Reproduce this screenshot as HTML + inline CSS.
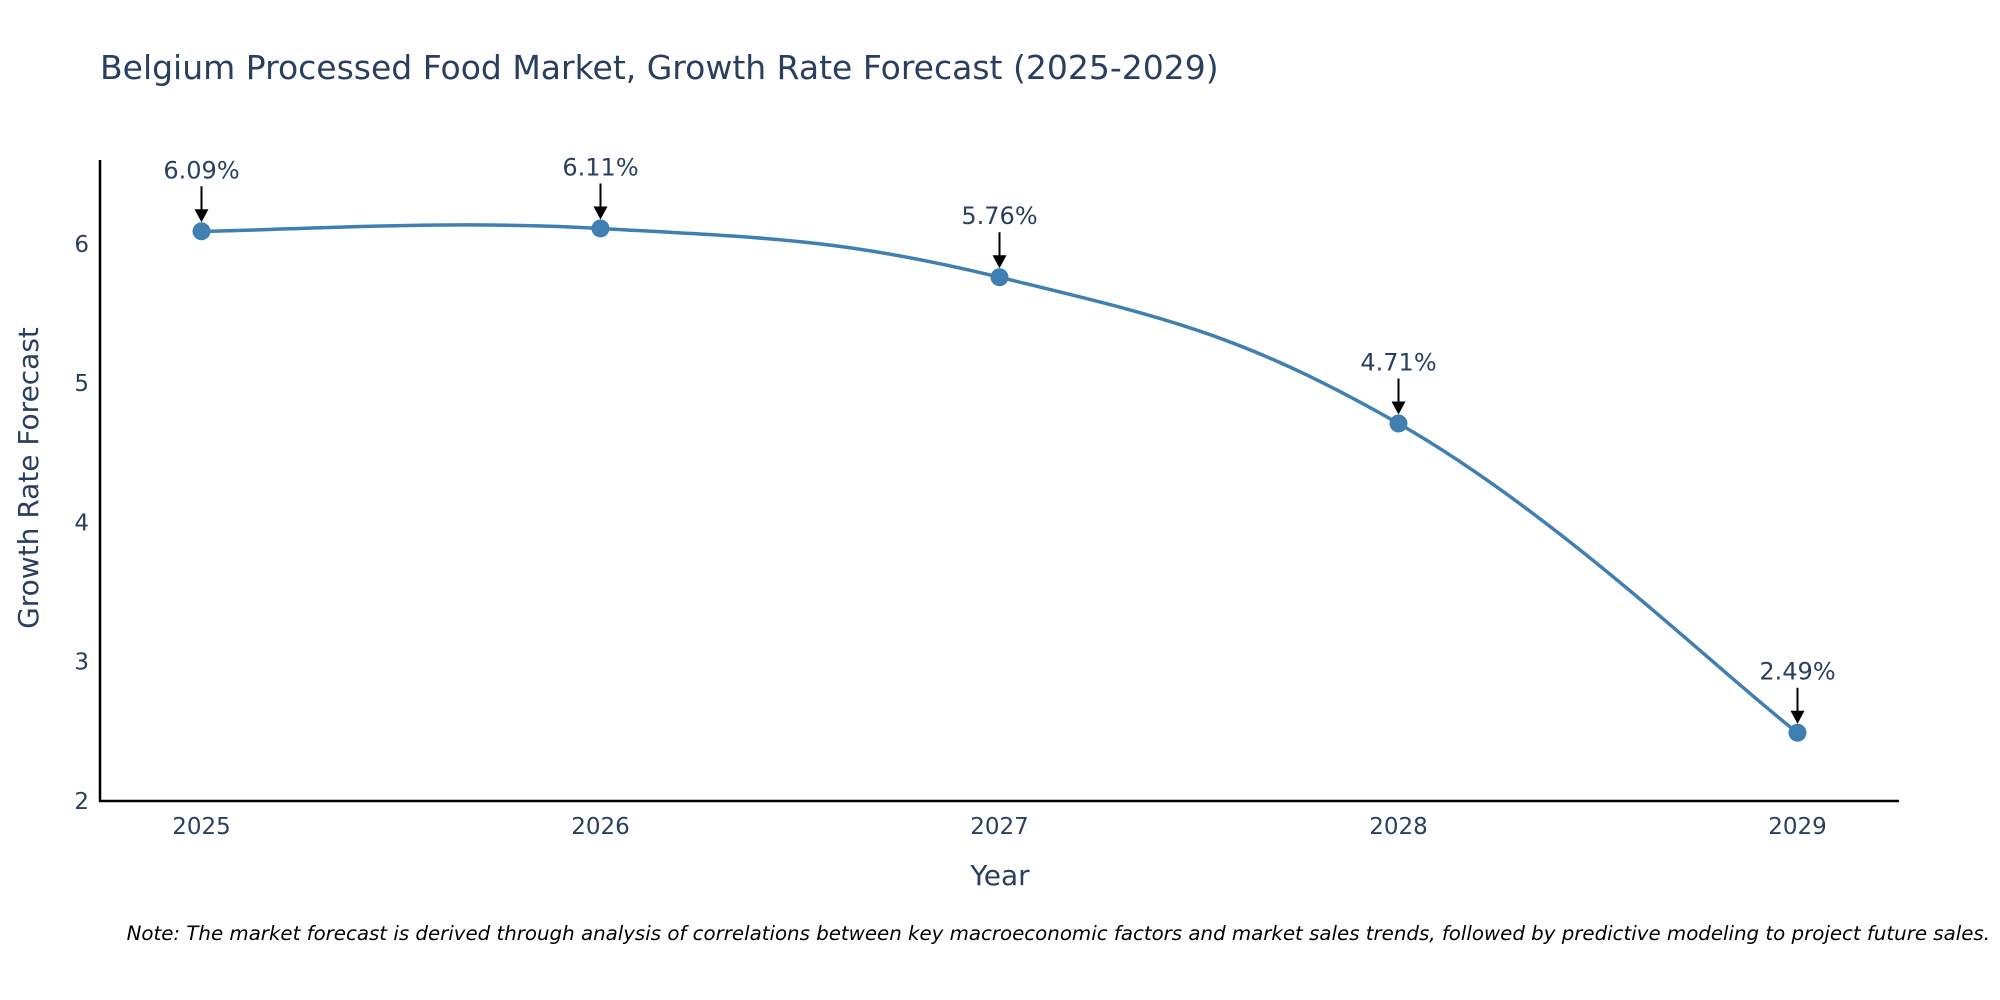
<!DOCTYPE html>
<html><head><meta charset="utf-8"><style>
body{margin:0;background:#fff;}
svg{display:block;font-family:"DejaVu Sans","Liberation Sans",sans-serif;}
</style></head><body>
<svg id="chart" width="2000" height="1000">
<text x="100" y="79" font-size="33" fill="#2a3f5f">Belgium Processed Food Market, Growth Rate Forecast (2025-2029)</text>
<line x1="100" y1="160" x2="100" y2="802" stroke="#000" stroke-width="2.5"/>
<line x1="99" y1="801" x2="1899" y2="801" stroke="#000" stroke-width="2.5"/>
<g id="yticks"></g><g id="xticks"></g>
<text x="1000" y="885" font-size="28" fill="#2a3f5f" text-anchor="middle">Year</text>
<text x="38" y="478" font-size="28" fill="#2a3f5f" text-anchor="middle" transform="rotate(-90 38 478)">Growth Rate Forecast</text>
<path id="line" fill="none" stroke="#3f7fb1" stroke-width="3.5"/>
<g id="marks"></g>
<text x="1990" y="940" font-size="19.8" font-style="italic" fill="#000" text-anchor="end">Note: The market forecast is derived through analysis of correlations between key macroeconomic factors and market sales trends, followed by predictive modeling to project future sales.</text>
</svg>
<script>
const years=[2025,2026,2027,2028,2029];
const values=[6.09,6.11,5.76,4.71,2.49];
const labels=["6.09%","6.11%","5.76%","4.71%","2.49%"];
const yTicks=[2,3,4,5,6];
const NS="http://www.w3.org/2000/svg";
const x=v=>201.5+(v-2025)*399;
const y=v=>801-(v-2)*139.3;
function mk(t,a,p){const e=document.createElementNS(NS,t);for(const k in a)e.setAttribute(k,a[k]);p.appendChild(e);return e;}
const yt=document.getElementById('yticks');
yTicks.forEach(v=>{const t=mk('text',{x:89,y:y(v)+8,'font-size':23,fill:'#2a3f5f','text-anchor':'end'},yt);t.textContent=v;

});
const xt=document.getElementById('xticks');
years.forEach(v=>{const t=mk('text',{x:x(v),y:834,'font-size':23,fill:'#2a3f5f','text-anchor':'middle'},xt);t.textContent=v;

});
const P=years.map((yr,i)=>[x(yr),y(values[i])]);
let d=`M${P[0][0]},${P[0][1]}`;const s=0.2;
for(let i=0;i<P.length-1;i++){const p0=P[Math.max(0,i-1)],p1=P[i],p2=P[i+1],p3=P[Math.min(P.length-1,i+2)];
const c1=[p1[0]+(p2[0]-p0[0])*s,p1[1]+(p2[1]-p0[1])*s],c2=[p2[0]-(p3[0]-p1[0])*s,p2[1]-(p3[1]-p1[1])*s];
d+=` C${c1[0]},${c1[1]} ${c2[0]},${c2[1]} ${p2[0]},${p2[1]}`;}
document.getElementById('line').setAttribute('d',d);
const m=document.getElementById('marks');
P.forEach((p,i)=>{const c=mk('circle',{cx:p[0],cy:p[1],r:9,fill:'#3f7fb1'},m);


const l=mk('line',{x1:p[0],y1:p[1]-45,x2:p[0],y2:p[1]-20,stroke:'#000','stroke-width':2},m);


const h=mk('polygon',{points:`${p[0]-7},${p[1]-22} ${p[0]+7},${p[1]-22} ${p[0]},${p[1]-9}`,fill:'#000'},m);


const t=mk('text',{x:p[0],y:p[1]-53,'font-size':24,fill:'#2a3f5f','text-anchor':'middle'},m);t.textContent=labels[i];

});
</script>
</body></html>
